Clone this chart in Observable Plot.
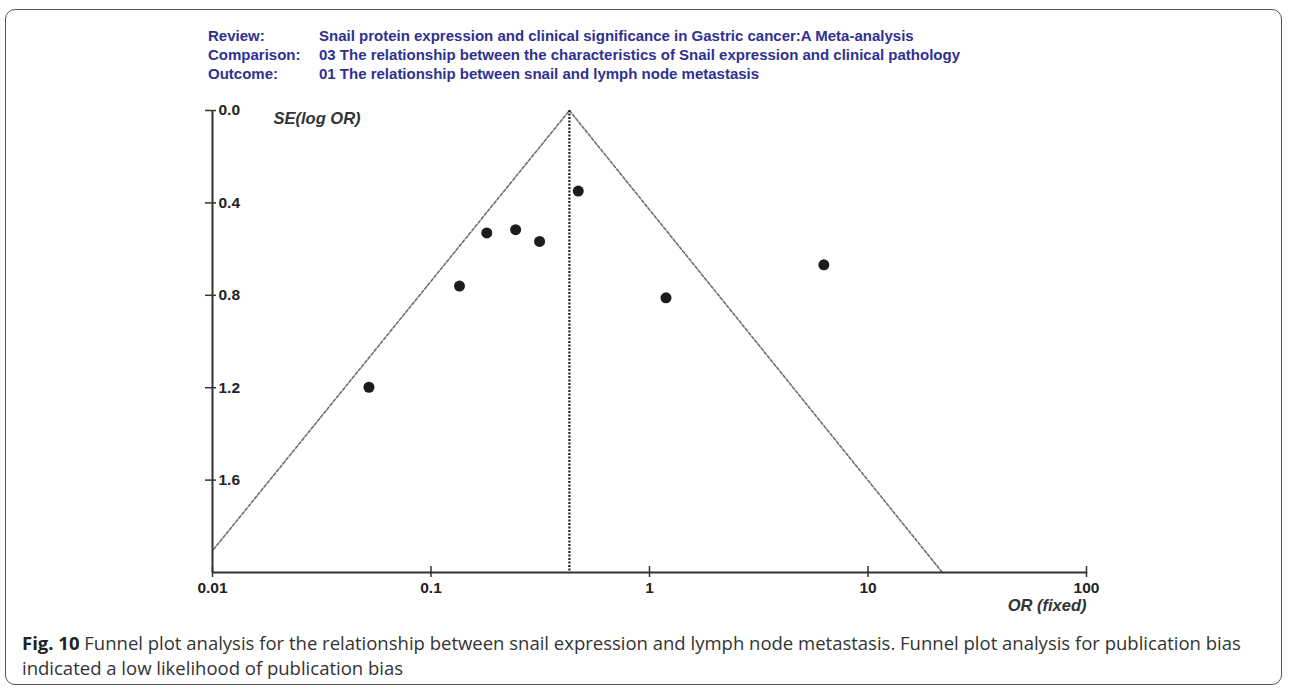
<!DOCTYPE html>
<html>
<head>
<meta charset="utf-8">
<script src="https://cdn.jsdelivr.net/npm/d3@7"></script>
<script src="https://cdn.jsdelivr.net/npm/@observablehq/plot@0.6"></script>
<style>
  html, body { margin: 0; padding: 0; background: #fff; }
  #fig { position: relative; width: 1290px; height: 689px; overflow: hidden; background: #fff; }
  #frame { position: absolute; left: 5px; top: 9px; width: 1277px; height: 676px; border: 1.5px solid #555; border-radius: 10px; box-sizing: border-box; }
  #header { position: absolute; left: 208px; top: 26px; font-family: "Liberation Sans", Arial, sans-serif; font-weight: bold; font-size: 15px; color: #2f3192; line-height: 19px; }
  #header .row { white-space: nowrap; }
  #header .lab { display: inline-block; width: 111px; }
  #chart { position: absolute; left: 0; top: 0; }
  #caption { position: absolute; left: 22px; top: 630px; font-family: "Open Sans", "Noto Sans", sans-serif; font-size: 18.5px; color: #333; line-height: 25px; white-space: nowrap; }
  #caption b { color: #222; }
</style>
</head>
<body>
<div id="fig">
  <div id="frame"></div>
  <div id="header"></div>
  <div id="chart"></div>
  <div id="caption"></div>
</div>
<script>
// ---- data ----
const headerLabels = ["Review:", "Comparison:", "Outcome:"];
const headerValues = [
  "Snail protein expression and clinical significance in Gastric cancer:A Meta-analysis",
  "03 The relationship between the characteristics of Snail expression and clinical pathology",
  "01 The relationship between snail and lymph node metastasis"
];
const studyOR = [0.052, 0.135, 0.18, 0.244, 0.314, 0.472, 1.19, 6.28];
const studySE = [1.198, 0.76, 0.53, 0.516, 0.567, 0.349, 0.811, 0.668];
const pooledOR = 0.43;
const funnelOR = [0.0083, 0.43, 21.9];
const funnelSE = [2.0, 0.0, 2.0];
const xTicks = [0.01, 0.1, 1, 10, 100];
const xTickLabels = ["0.01", "0.1", "1", "10", "100"];
const yTicks = [0, 0.4, 0.8, 1.2, 1.6];
const xDomain = [0.01, 100];
const yDomain = [0, 2];
const yTitle = "SE(log OR)";
const xTitle = "OR (fixed)";
const captionBold = "Fig. 10";
const captionLines = [
  " Funnel plot analysis for the relationship between snail expression and lymph node metastasis. Funnel plot analysis for publication bias",
  "indicated a low likelihood of publication bias"
];

// ---- header ----
const header = document.getElementById("header");
headerLabels.forEach((lab, i) => {
  const row = document.createElement("div");
  row.className = "row";
  const l = document.createElement("span");
  l.className = "lab";
  l.textContent = lab;
  const v = document.createElement("span");
  v.textContent = headerValues[i];
  row.appendChild(l); row.appendChild(v);
  header.appendChild(row);
});

// ---- caption ----
const cap = document.getElementById("caption");
const b = document.createElement("b");
b.textContent = captionBold;
cap.appendChild(b);
cap.appendChild(document.createTextNode(captionLines[0]));
cap.appendChild(document.createElement("br"));
cap.appendChild(document.createTextNode(captionLines[1]));

// ---- chart ----
const studies = studyOR.map((or, i) => ({or, se: studySE[i]}));
const funnel = funnelOR.map((or, i) => ({or, se: funnelSE[i]}));

const chart = Plot.plot({
  width: 1290,
  height: 630,
  marginLeft: 212,
  marginRight: 204,
  marginTop: 110,
  marginBottom: 58,
  x: {type: "log", domain: xDomain},
  y: {domain: yDomain, reverse: true},
  style: {
    fontFamily: "'Liberation Sans', Arial, sans-serif",
    fontSize: "15.5px",
    fontWeight: "bold",
    color: "#222",
    background: "transparent",
    overflow: "visible"
  },
  marks: [
    Plot.line(funnel, {x: "or", y: "se", stroke: "#6e6e6e", strokeWidth: 1.6, strokeDasharray: "3,2", clip: true}),
    Plot.ruleX([pooledOR], {stroke: "#222", strokeWidth: 2.2, strokeDasharray: "2,1.5"}),
    Plot.ruleX([xDomain[0]], {stroke: "#333", strokeWidth: 2}),
    Plot.ruleY([yDomain[1]], {stroke: "#333", strokeWidth: 2}),
    Plot.axisX({ticks: xTicks, tickFormat: d => xTickLabels[xTicks.indexOf(d)], tickSize: 5, tickPadding: 4, label: null, stroke: "#333", strokeWidth: 1.5}),
    Plot.axisX({ticks: xTicks, anchor: "top", frameAnchor: "bottom", tickSize: 7, tickFormat: () => "", label: null, stroke: "#333", strokeWidth: 1.5}),
    Plot.axisY({ticks: yTicks, tickSize: 7, tickPadding: -13, textAnchor: "start", tickFormat: d => d.toFixed(1), label: null, stroke: "#333", strokeWidth: 1.5}),
    Plot.axisY({ticks: yTicks, anchor: "right", frameAnchor: "left", tickSize: 3, tickFormat: () => "", label: null, stroke: "#333", strokeWidth: 1.5}),
    Plot.dot(studies, {x: "or", y: "se", r: 5.5, fill: "#1c1c1c"}),
    Plot.text([yTitle], {frameAnchor: "top-left", dx: 61, dy: 2, textAnchor: "start", fontStyle: "italic", fontWeight: 600, fontSize: 16.5, fill: "#333"}),
    Plot.text([xTitle], {frameAnchor: "bottom-right", dy: 38, textAnchor: "end", fontStyle: "italic", fontWeight: 600, fontSize: 16.5, fill: "#333"})
  ]
});
document.getElementById("chart").appendChild(chart);
</script>
</body>
</html>
